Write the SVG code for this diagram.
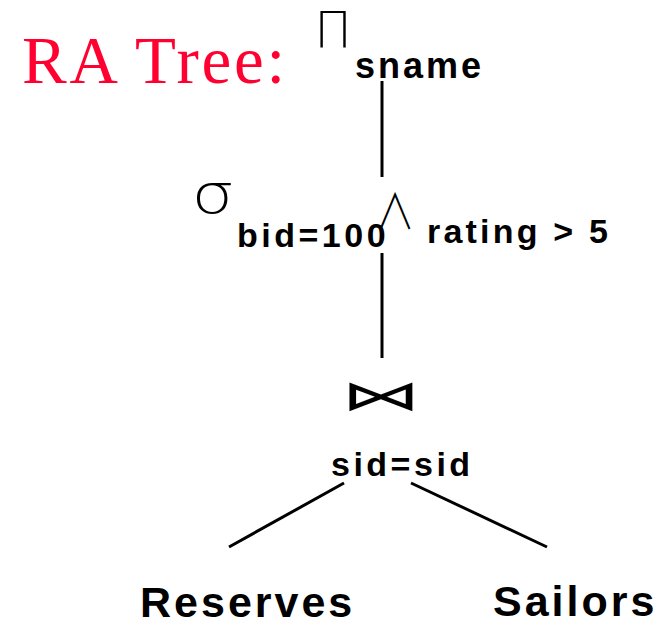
<svg xmlns="http://www.w3.org/2000/svg" width="669" height="625" viewBox="0 0 669 625">
<style>
.lbl{font-family:"Liberation Sans",Arial,sans-serif;font-weight:bold;fill:#000;}
.sym{font-family:"DejaVu Sans","Liberation Sans",sans-serif;fill:#000;}
.edge{stroke:#000;stroke-width:3;fill:none;stroke-linecap:butt;}
</style>
<rect width="669" height="625" fill="#fff"/>
<g id="title">
<text x="22" y="83" font-family="'Liberation Serif',serif" font-size="67" textLength="263" lengthAdjust="spacing" fill="#ff0030">RA Tree:</text>
</g>
<g id="connectors">
<line class="edge" x1="382" y1="81" x2="382" y2="177"/>
<line class="edge" x1="382" y1="253" x2="382" y2="358"/>
<line class="edge" x1="344" y1="483" x2="229" y2="547"/>
<line class="edge" x1="411" y1="483" x2="547" y2="547"/>
</g>
<g id="projection">
<text class="sym" x="333" y="47" font-size="50" text-anchor="middle" font-weight="200">Π</text>
<text class="lbl" x="355" y="78" font-size="36" letter-spacing="3">sname</text>
</g>
<g id="selection">
<text class="sym" transform="translate(213,213) scale(1.3,1.05)" x="0" y="0" font-size="52" text-anchor="middle" font-weight="200">σ</text>
<text class="lbl" x="237" y="247" font-size="34" letter-spacing="3.5">bid=100</text>
<text transform="translate(395,229) scale(0.9,1.1)" x="0" y="0" font-family="'Noto Sans CJK JP','DejaVu Sans',sans-serif" font-size="44" font-weight="300" text-anchor="middle" fill="#000">∧</text>
<text class="lbl" x="427" y="243" font-size="34" letter-spacing="3.2">rating &gt; 5</text>
</g>
<g id="join">
<text class="sym" transform="translate(381,410) scale(0.95,0.5)" x="0" y="0" font-size="84" text-anchor="middle" font-weight="200">⋈</text>
<text class="lbl" x="331" y="476" font-size="34" letter-spacing="3.5">sid=sid</text>
</g>
<g id="reserves">
<text class="lbl" x="140" y="617" font-size="43" letter-spacing="3">Reserves</text>
</g>
<g id="sailors">
<text class="lbl" x="493" y="616" font-size="43" letter-spacing="3">Sailors</text>
</g>
</svg>
